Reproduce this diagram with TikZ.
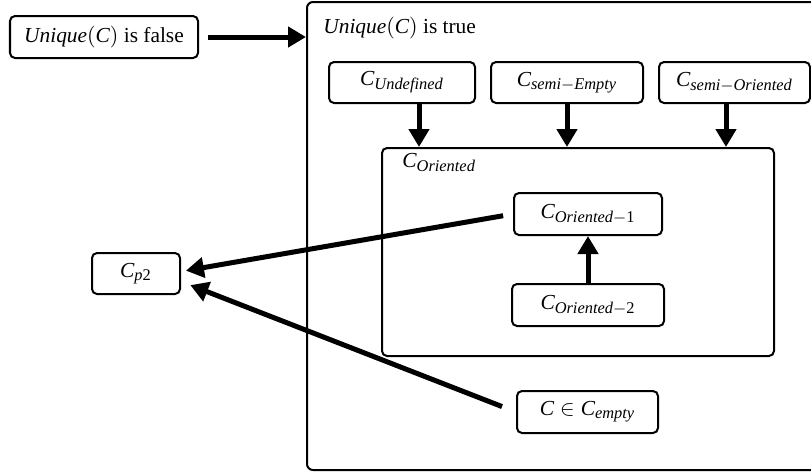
\documentclass[tikz,border=0pt]{standalone}
\usepackage{fontspec}
\setmainfont{Liberation Serif}
\usetikzlibrary{positioning, arrows.meta}
\DeclareMathSizes{10.7}{10.7}{8.2}{6}

\begin{document}
\begin{tikzpicture}[x=0.5pt, y=-0.5pt,
      node distance=7pt and 7pt,
      every node/.style={font=\fontsize{10.7}{13}\selectfont},
      cls/.style={draw, rounded corners=2.5pt, line width=1pt, minimum height=21pt, inner sep=2pt},
      big/.style={draw, rounded corners=3pt, line width=1pt, minimum width=261.5pt, minimum height=234pt},
      lbl/.style={anchor=north west, inner sep=0pt},
      arr/.style={line width=2.5pt, -{Triangle[width=10pt, length=9pt]}}]

      \clip (0,0) rectangle (811,473);

      \node[big] (truebox) at (568.5,236) {};
      \node[lbl] (truelbl) at ([xshift=8.5pt, yshift=-8pt]truebox.north west) {$\mathit{Unique}\mathrm{(}\mathit{C}\mathrm{)}$ is true};

      \node[cls, minimum width=94pt] (false) at (104,37) {$\mathit{Unique}\mathrm{(}\mathit{C}\mathrm{)}$ is false};

      \node[cls, minimum width=73pt, minimum height=20.5pt] (undef) at (402,82.5) {$\mathit{C}_{\mathit{Undefined}}$}; %
      \node[cls, minimum width=76pt, minimum height=20.5pt] (semiempty) [right=of undef] {$\mathit{C}_{\mathit{semi}-\mathit{Empty}}$};
      \node[cls, minimum width=75.5pt, minimum height=20.5pt] (semiori) [right=of semiempty] {$\mathit{C}_{\mathit{semi}-\mathit{Oriented}}$};

      \node[cls, minimum width=196pt, minimum height=104pt] (ori) at (578,252) {}; %
      \node[lbl] (orilbl) at ([xshift=10.5pt, yshift=-3pt]ori.north west) {$\mathit{C}_{\mathit{Oriented}}$};
      \node[cls, minimum width=74pt] (ori1) at (588,214) {$\mathit{C}_{\mathit{Oriented}-\mathrm{1}}$};
      \node[cls, minimum width=76pt] (ori2) [below=23.5pt of ori1] {$\mathit{C}_{\mathit{Oriented}-\mathrm{2}}$};

      \node[cls, minimum width=70.5pt] (empty) at (587.5,412) {$\mathit{C}\in\mathit{C}_{\mathit{empty}}$}; %
      \node[cls, minimum width=44pt, minimum height=20.5pt] (cp2) at (136,273.5) {$\mathit{C}_{\mathit{p}\mathrm{2}}$};

      \coordinate (u1) at ([xshift=8.5pt]undef.south);
      \coordinate (u2) at (semiempty.south);
      \coordinate (u3) at ([xshift=-4.25pt]semiori.south);

      \draw[arr, shorten <=4.5pt] (false) -- (false -| truebox.west);
      \draw[arr] (u1) -- (u1 |- ori.north);
      \draw[arr] (u2) -- (u2 |- ori.north);
      \draw[arr] (u3) -- (u3 |- ori.north);
      \draw[arr] (ori2) -- (ori1);
      \draw[arr, shorten <=5pt, shorten >=2.5pt] (ori1.west) -- ([yshift=1pt]cp2.east);
      \draw[arr, shorten <=7.5pt, shorten >=5pt] (empty.west) -- ([yshift=-4pt]cp2.east);
\end{tikzpicture}
\end{document}
